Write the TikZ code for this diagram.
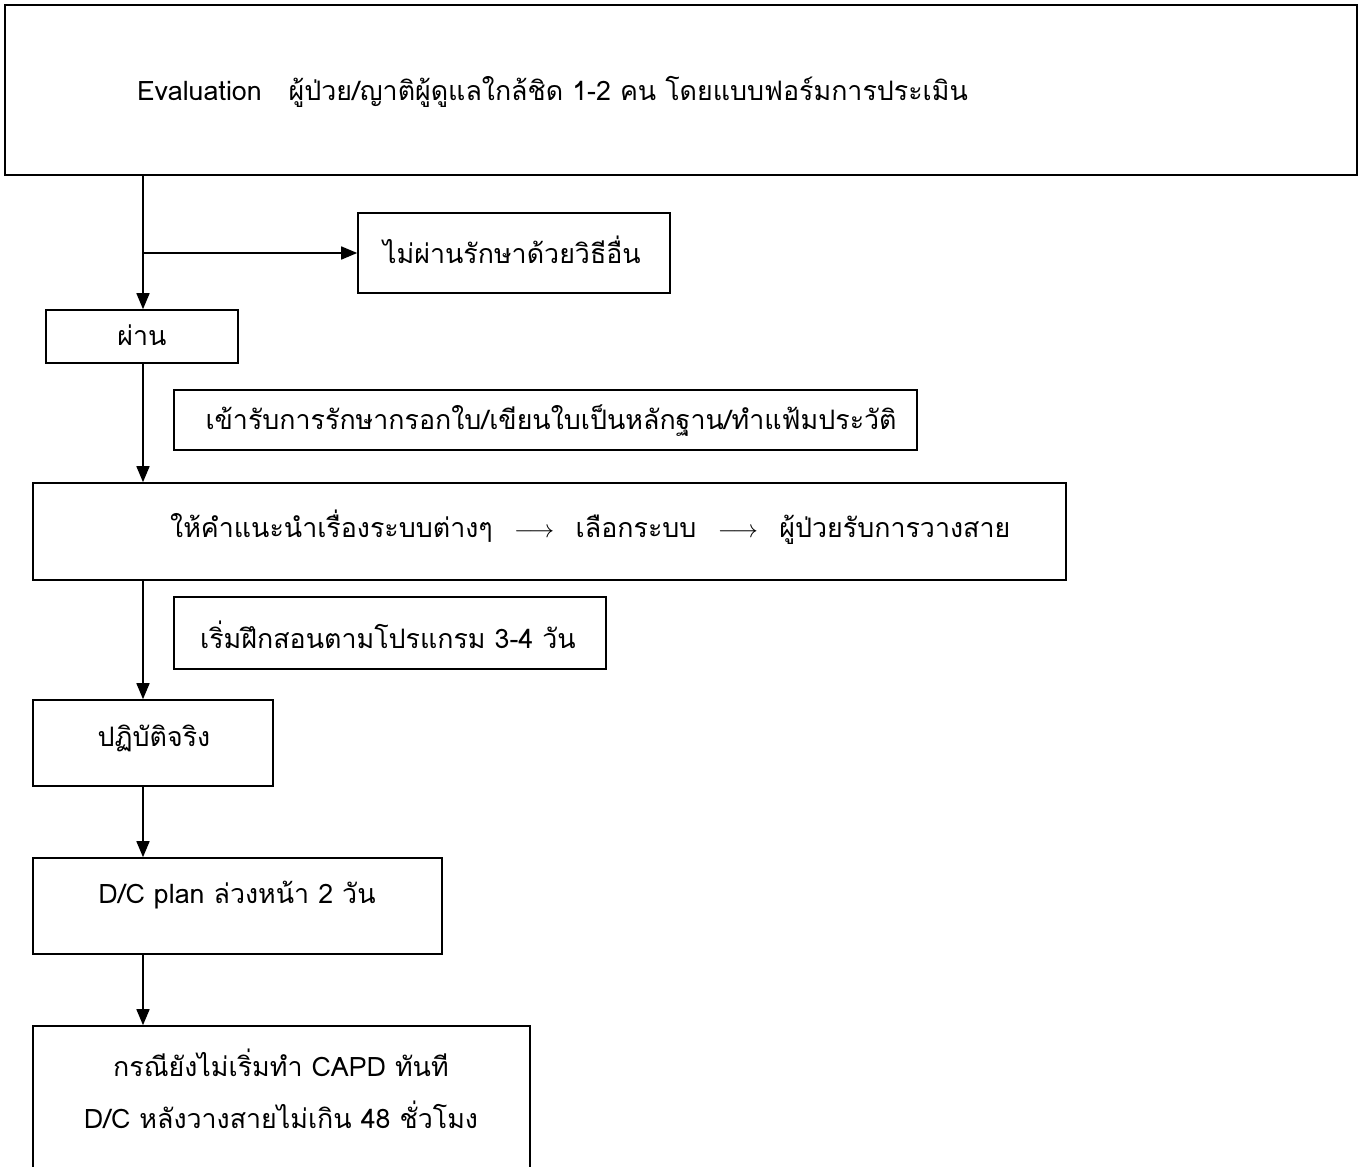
\documentclass[tikz,border=0pt]{standalone}
\usepackage{fontspec}
\setmainfont[Script=Thai]{Loma}
\usetikzlibrary{arrows.meta}
\newcommand{\steparrow}{\hspace{0.8em}$\longrightarrow$\hspace{0.8em}}
\begin{document}
\begin{tikzpicture}[x=1pt,y=-1pt,
  box/.style={draw, line width=1.6pt, rectangle, inner sep=0pt},
  lbl/.style={font=\fontsize{26.8}{31}\selectfont, inner sep=0pt},
  flow/.style={line width=1.6pt, -{Triangle[length=16pt,width=13pt]}}]
\clip (0,0) rectangle (1363,1167);
\useasboundingbox (0,0) rectangle (1363,1167);
% boxes
\node[box, line width=2.4pt, minimum width=1352pt, minimum height=170pt] (top) at (681,90) {};
\node[box, minimum width=312pt, minimum height=80pt] (fail) at (514,253) {};
\node[box, minimum width=192pt, minimum height=53pt] (pass) at (142,336.5) {};
\node[box, minimum width=743pt, minimum height=60pt] (admit) at (545.5,420) {};
\node[box, minimum width=1033pt, minimum height=97pt] (advise) at (549.5,531.5) {};
\node[box, minimum width=432pt, minimum height=72pt] (train) at (390,633) {};
\node[box, minimum width=240pt, minimum height=86pt] (practice) at (153,743) {};
\node[box, minimum width=409pt, minimum height=96pt] (dcplan) at (237.5,906) {};
\node[box, minimum width=497pt, minimum height=190pt] (last) at (281.5,1121) {};
% texts
\node[lbl, anchor=west] (t-top) at (137,92) {Evaluation\quad ผู้ป่วย/ญาติผู้ดูแลใกล้ชิด 1-2 คน โดยแบบฟอร์มการประเมิน};
\node[lbl] (t-fail) at (512,250) {ไม่ผ่านรักษาด้วยวิธีอื่น};
\node[lbl] (t-pass) at (142,335) {ผ่าน};
\node[lbl] (t-admit) at (551,421) {เข้ารับการรักษากรอกใบ/เขียนใบเป็นหลักฐาน/ทำแฟ้มประวัติ};
\node[lbl, anchor=west] (t-advise) at (170,527) {ให้คำแนะนำเรื่องระบบต่างๆ\steparrow เลือกระบบ\steparrow ผู้ป่วยรับการวางสาย};
\node[lbl] (t-train) at (388,635) {เริ่มฝึกสอนตามโปรแกรม 3-4 วัน};
\node[lbl] (t-practice) at (154,738) {ปฏิบัติจริง};
\node[lbl] (t-dcplan) at (237,895) {D/C plan ล่วงหน้า 2 วัน};
\node[lbl] (t-last1) at (281,1063) {กรณียังไม่เริ่มทำ CAPD ทันที};
\node[lbl] (t-last2) at (281,1115) {D/C หลังวางสายไม่เกิน 48 ชั่วโมง};
% connectors along the left spine
\coordinate (spine) at (143,0);
\draw[flow] (spine |- top.south) -- (spine |- pass.north);
\draw[flow] (spine |- fail.west) -- (fail.west);
\draw[flow] (spine |- pass.south) -- (spine |- advise.north);
\draw[flow] (spine |- advise.south) -- (spine |- practice.north);
\draw[flow] (spine |- practice.south) -- (spine |- dcplan.north);
\draw[flow] (spine |- dcplan.south) -- (spine |- last.north);
\end{tikzpicture}
\end{document}
